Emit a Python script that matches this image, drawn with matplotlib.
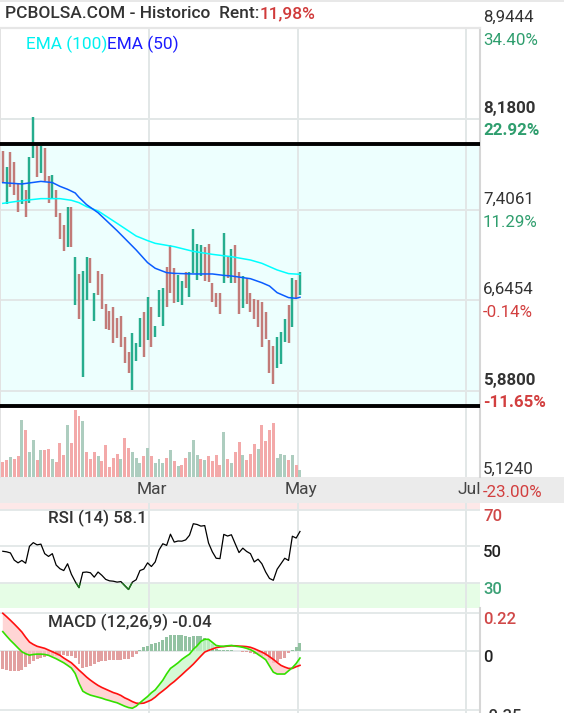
import matplotlib
matplotlib.use('Agg')
import matplotlib.pyplot as plt
import matplotlib.transforms as mtransforms
from matplotlib.patches import Rectangle
import numpy as np

plt.rcParams['font.family'] = ['Roboto', 'DejaVu Sans']

# ---------------- data ----------------
candle_high = [7.910, 7.774, 7.898, 7.814, 7.628, 7.662, 7.577, 7.859, 8.197, 7.949,
               7.949, 7.935, 7.698, 7.704, 7.577, 7.380, 7.281, 7.431, 7.431, 7.013,
               6.867, 6.895, 7.013, 6.999, 6.709, 6.889, 6.867, 6.613, 6.551, 6.585,
               6.492, 6.512, 6.337, 6.210, 6.371, 6.280, 6.492, 6.543, 6.670, 6.591,
               6.427, 6.732, 6.746, 6.929, 7.112, 6.915, 6.858, 6.810, 6.887, 6.887,
               7.247, 7.121, 7.112, 7.098, 7.121, 6.788, 6.709, 6.703, 7.211, 7.013,
               7.075, 7.112, 6.887, 6.850, 6.830, 6.709, 6.653, 6.647, 6.633, 6.548,
               6.309, 6.258, 6.331, 6.379, 6.484, 6.605, 6.830, 6.816, 6.881]
candle_low = [7.639, 7.459, 7.605, 7.535, 7.394, 7.456, 7.352, 7.470, 7.845, 7.690,
              7.724, 7.656, 7.470, 7.507, 7.352, 7.166, 7.064, 7.092, 7.098, 6.605,
              6.484, 5.999, 6.647, 6.794, 6.472, 6.689, 6.568, 6.399, 6.393, 6.286,
              6.323, 6.252, 6.117, 6.027, 5.886, 6.134, 6.247, 6.168, 6.309, 6.252,
              6.337, 6.506, 6.427, 6.591, 6.703, 6.619, 6.633, 6.605, 6.746, 6.670,
              6.872, 6.816, 6.850, 6.810, 6.802, 6.633, 6.585, 6.529, 6.794, 6.830,
              6.794, 6.788, 6.529, 6.577, 6.613, 6.548, 6.484, 6.416, 6.252, 6.314,
              6.027, 5.937, 6.069, 6.106, 6.295, 6.286, 6.416, 6.661, 6.689]
candle_up = [0, 1, 0, 0, 0, 1, 0, 1, 1, 0,
             1, 0, 0, 1, 0, 0, 0, 1, 0, 1,
             0, 1, 1, 0, 1, 0, 0, 0, 0, 0,
             0, 0, 0, 0, 1, 1, 1, 0, 1, 0,
             1, 1, 1, 0, 0, 0, 1, 1, 0, 1,
             1, 1, 1, 0, 0, 0, 0, 0, 1, 0,
             1, 0, 0, 1, 0, 0, 0, 0, 0, 0,
             0, 0, 1, 1, 1, 0, 1, 0, 1]
volume = [45, 51, 60, 54, 63, 171, 141, 75, 111, 51,
          81, 81, 84, 54, 45, 102, 66, 156, 102, 201,
          183, 168, 75, 54, 75, 63, 48, 96, 30, 57,
          69, 54, 117, 87, 75, 57, 42, 63, 87, 63,
          42, 54, 42, 57, 81, 48, 33, 36, 57, 75,
          111, 66, 54, 51, 63, 48, 66, 36, 135, 54,
          42, 75, 105, 66, 51, 69, 99, 84, 156, 108,
          141, 162, 57, 69, 66, 51, 66, 36, 21]
volume_up = [0, 0, 1, 0, 0, 1, 0, 1, 1, 0,
             1, 0, 0, 1, 0, 0, 0, 1, 0, 0,
             0, 1, 0, 0, 0, 1, 0, 0, 0, 0,
             0, 1, 0, 0, 1, 1, 1, 0, 1, 0,
             1, 1, 1, 0, 1, 0, 1, 0, 0, 1,
             1, 1, 0, 1, 0, 0, 0, 0, 1, 0,
             1, 0, 0, 1, 0, 0, 0, 1, 0, 0,
             0, 0, 1, 1, 1, 0, 1, 0, 1]
ema50_idx = [0, 5, 10, 13, 15, 17, 19, 20, 22, 25, 30, 35, 38, 40, 43, 45, 50, 55,
             58, 60, 65, 68, 70, 72, 75, 77, 78]
ema50_val = [7.639, 7.628, 7.650, 7.640, 7.608, 7.583, 7.552, 7.515, 7.453, 7.385,
             7.233, 7.070, 6.963, 6.915, 6.878, 6.872, 6.867, 6.867, 6.855, 6.850,
             6.827, 6.793, 6.765, 6.709, 6.667, 6.661, 6.670]
ema100_idx = [0, 5, 10, 15, 18, 20, 22, 25, 30, 35, 38, 40, 45, 50, 55, 60, 65, 68,
              70, 72, 75, 78]
ema100_val = [7.464, 7.487, 7.504, 7.504, 7.490, 7.470, 7.436, 7.400, 7.295, 7.188,
              7.149, 7.126, 7.098, 7.058, 7.033, 7.013, 6.985, 6.957, 6.929, 6.901,
              6.870, 6.864]
rsi = [47.3, 47.0, 46.4, 42.5, 41.0, 42.3, 40.8, 50.0, 52.0, 50.8,
       51.2, 46.0, 44.5, 46.0, 39.8, 37.8, 36.8, 40.5, 34.8, 30.8,
       27.5, 35.8, 36.0, 35.6, 33.2, 36.0, 34.2, 32.0, 31.2, 31.0,
       30.5, 30.8, 28.6, 26.5, 30.5, 31.8, 36.8, 37.6, 41.0, 39.0,
       41.5, 48.0, 51.4, 50.5, 56.6, 52.3, 52.9, 52.8, 53.5, 56.0,
       62.3, 61.9, 61.0, 61.3, 51.8, 47.0, 43.5, 43.3, 56.5, 55.6,
       56.3, 51.4, 46.6, 49.0, 47.2, 46.0, 41.5, 43.0, 40.5, 36.0,
       32.5, 31.5, 37.5, 40.5, 43.5, 42.3, 55.5, 54.5, 58.1]
macd = [0.112, 0.086, 0.061, 0.039, 0.016, -0.006, -0.018, -0.026, -0.022, -0.020,
        -0.020, -0.022, -0.027, -0.037, -0.047, -0.059, -0.071, -0.086, -0.102, -0.134,
        -0.192, -0.238, -0.251, -0.261, -0.267, -0.273, -0.279, -0.287, -0.293, -0.300,
        -0.306, -0.316, -0.326, -0.334, -0.338, -0.326, -0.306, -0.287, -0.269, -0.247,
        -0.230, -0.202, -0.173, -0.136, -0.104, -0.088, -0.071, -0.051, -0.035, -0.020,
        0.008, 0.029, 0.055, 0.067, 0.067, 0.049, 0.031, 0.027, 0.026, 0.029,
        0.031, 0.027, 0.024, 0.020, 0.014, 0.006, -0.006, -0.022, -0.037, -0.053,
        -0.090, -0.126, -0.137, -0.137, -0.137, -0.118, -0.100, -0.075, -0.043]
macd_signal = [0.220, 0.200, 0.179, 0.157, 0.134, 0.110, 0.079, 0.051, 0.037, 0.026,
               0.020, 0.014, 0.004, -0.006, -0.016, -0.027, -0.043, -0.057, -0.071, -0.092,
               -0.114, -0.134, -0.155, -0.173, -0.189, -0.204, -0.216, -0.226, -0.236, -0.246,
               -0.253, -0.263, -0.277, -0.287, -0.299, -0.308, -0.310, -0.308, -0.299, -0.289,
               -0.273, -0.253, -0.236, -0.218, -0.198, -0.181, -0.161, -0.141, -0.120, -0.100,
               -0.079, -0.055, -0.031, -0.008, 0.002, 0.010, 0.018, 0.022, 0.024, 0.027,
               0.029, 0.029, 0.027, 0.026, 0.024, 0.020, 0.012, 0.002, -0.008, -0.020,
               -0.035, -0.051, -0.069, -0.086, -0.096, -0.104, -0.104, -0.094, -0.086]

band_top = 7.969
band_bottom = 5.751
price_levels = [8.9444, 8.18, 7.4061, 6.6454, 5.88, 5.124]
price_pcts = ['34.40%', '22.92%', '11.29%', '-0.14%', '-11.65%', '-23.00%']
price_bold = [False, True, False, False, True, False]
month_labels = ['Mar', 'May', 'Jul']
month_pos = [38.4, 77.6, 121.7]
rsi_levels = [70, 50, 30]
macd_levels = [0.22, 0, -0.35]
macd_level_labels = ['0.22', '0', '-0.35']
title_text = 'PCBOLSA.COM - Historico  Rent:'
rent_text = '11,98%'
rsi_title = 'RSI (14) 58.1'
macd_title = 'MACD (12,26,9) -0.04'

# ---------------- layout ----------------
W, H = 564, 713
fig = plt.figure(figsize=(W / 100, H / 100), dpi=100)
fig.patch.set_facecolor('white')
renderer = fig.canvas.get_renderer()


def px_axes(l, t, r, b):
    a = fig.add_axes([l / W, 1 - b / H, (r - l) / W, (b - t) / H])
    a.set_xticks([])
    a.set_yticks([])
    for s in a.spines.values():
        s.set_visible(False)
    return a


XLIM = (-0.735, 125.25)
GRID = '#e2e7e7'
GREEN_TXT = '#2f9e6e'
RED_TXT = '#d23f3f'
DARK = '#333333'
idx = np.arange(len(candle_high))

# top frame line and date band (behind the axes)
fig.add_artist(Rectangle((0, 1 - 2 / H), 1, 2 / H, transform=fig.transFigure,
                         color='#e8e8e8', lw=0, zorder=-5))
fig.add_artist(Rectangle((0, 1 - 503 / H), 1, 26 / H, transform=fig.transFigure,
                         color='#ebebeb', lw=0, zorder=-5))

# ---------------- price panel ----------------
ax = px_axes(0, 28, 480, 477)
ax.set_xlim(*XLIM)
ax.set_ylim(5.150, 8.947)
ax.spines['top'].set_visible(True)
ax.spines['top'].set_color('#e6e6e6')
ax.spines['top'].set_linewidth(1.6)
ax.spines['left'].set_visible(True)
ax.spines['left'].set_color('#e2e2e2')
ax.spines['left'].set_linewidth(1.4)
ax.spines['right'].set_visible(True)
ax.spines['right'].set_color('#d6d6d6')
ax.spines['right'].set_linewidth(1.5)

ax.axhspan(band_bottom, band_top, color='#edfffe', lw=0, zorder=0)
for lv in price_levels[1:5]:
    ax.axhline(lv, color=GRID, lw=1.4, zorder=1)
for p in month_pos:
    ax.axvline(p, color=GRID, lw=1.4, zorder=1)

axv = ax.twinx()
axv.set_ylim(0, 1347)
axv.bar(idx, volume, width=0.78,
        color=['#adcdbf' if u else '#f3a9a9' for u in volume_up], lw=0, zorder=2)
axv.set_xlim(*XLIM)
axv.axis('off')

ax.vlines(idx, candle_low, candle_high,
          colors=['#27ad8e' if u else '#c27b78' for u in candle_up], lw=1.75, zorder=3)
ax.plot(ema100_idx, ema100_val, color='#00ffff', lw=1.1, zorder=4)
ax.plot(ema50_idx, ema50_val, color='#0a5cff', lw=1.1, zorder=4)
ax.axhline(band_top, color='black', lw=2.8, zorder=5)
ax.axhline(band_bottom, color='black', lw=2.8, zorder=5)

trans_p = mtransforms.blended_transform_factory(fig.transFigure, ax.transData)
for lv, pct, bold in zip(price_levels, price_pcts, price_bold):
    w = 'bold' if bold else 'normal'
    ax.text(483 / W, lv, f'{lv:.4f}'.replace('.', ','),
            transform=mtransforms.offset_copy(trans_p, fig=fig, y=6, units='dots'),
            va='baseline', ha='left', fontsize=12.2, fontweight=w, color=DARK,
            clip_on=False, zorder=10)
    ax.text(483 / W, lv, pct,
            transform=mtransforms.offset_copy(trans_p, fig=fig, y=-16.5, units='dots'),
            va='baseline', ha='left', fontsize=12.2, fontweight=w,
            color=RED_TXT if pct.startswith('-') else GREEN_TXT, clip_on=False, zorder=10)


def seq_text(x_px, base_px, parts, **kw):
    x = x_px
    for s, c in parts:
        t = fig.text(x / W, 1 - base_px / H, s, color=c, va='baseline', ha='left', **kw)
        x = t.get_window_extent(renderer=renderer).x1


seq_text(5, 18.5, [(title_text, DARK), (rent_text, '#d03a3a')], fontsize=12.5,
         fontweight='medium')
seq_text(26, 49.5, [('EMA (100)', '#00f0f0'), ('EMA (50)', '#1a1aff')], fontsize=12.4)

# month labels
trans_m = mtransforms.blended_transform_factory(ax.transData, fig.transFigure)
for p, lab in zip(month_pos, month_labels):
    fig.text(p, 1 - 494 / H, lab,
             transform=mtransforms.offset_copy(trans_m, fig=fig, x=3, units='dots'),
             ha='center', va='baseline', fontsize=12.5, color='#444444')

# ---------------- RSI panel ----------------
axr = px_axes(0, 503, 480, 608)
axr.set_xlim(*XLIM)
axr.set_ylim(16.4, 73.6)
axr.axhspan(70, 100, color='#fde8e8', lw=0, zorder=0)
axr.axhspan(0, 30, color='#e6fde6', lw=0, zorder=0)
for lv in rsi_levels:
    axr.axhline(lv, color=GRID, lw=1.3, zorder=1)
for p in month_pos:
    axr.axvline(p, color=GRID, lw=1.4, zorder=1)
axr.plot(idx, rsi, color='black', lw=0.9, zorder=3)
low_line = axr.plot(idx, rsi, color='#1f7a1f', lw=1.0, zorder=4)[0]
low_line.set_clip_path(Rectangle((XLIM[0], 0), XLIM[1] - XLIM[0], 30, transform=axr.transData))

trans_r = mtransforms.blended_transform_factory(fig.transFigure, axr.transData)
for lv, col in zip(rsi_levels, ['#d04848', '#222222', '#3aa075']):
    axr.text(483 / W, lv, str(lv),
             transform=mtransforms.offset_copy(trans_r, fig=fig, y=-11, units='dots'),
             va='baseline', ha='left', fontsize=12, fontweight='medium', color=col,
             clip_on=False)
fig.text(48 / W, 1 - 523.5 / H, rsi_title, fontsize=12.2, fontweight='medium', color=DARK,
         va='baseline', ha='left')

# ---------------- MACD panel ----------------
axm = px_axes(0, 608, 480, 713)
axm.set_xlim(*XLIM)
axm.set_ylim(-0.366, 0.251)
axm.spines['right'].set_visible(True)
axm.spines['right'].set_color('#d6d6d6')
axm.spines['right'].set_linewidth(1.5)
for lv in macd_levels:
    axm.axhline(lv, color=GRID, lw=1.3, zorder=1)
for p in month_pos:
    axm.axvline(p, color=GRID, lw=1.4, zorder=1)
macd_a = np.array(macd)
sig_a = np.array(macd_signal)
hist = macd_a - sig_a
axm.bar(idx, hist, width=0.78, color=['#93c2a2' if h >= 0 else '#e2a0a0' for h in hist],
        lw=0, zorder=2)
axm.fill_between(idx, macd_a, sig_a, where=macd_a >= sig_a, interpolate=True,
                 color='#c8f8c8', alpha=0.75, lw=0, zorder=3)
axm.fill_between(idx, macd_a, sig_a, where=macd_a < sig_a, interpolate=True,
                 color='#ffc8c8', alpha=0.75, lw=0, zorder=3)
axm.plot(idx, sig_a, color='#ff1010', lw=1.2, zorder=4)
axm.plot(idx, macd_a, color='#33e000', lw=1.2, zorder=5)

trans_mc = mtransforms.blended_transform_factory(fig.transFigure, axm.transData)
for lv, lab, col in zip(macd_levels, macd_level_labels, ['#d04848', '#222222', '#333333']):
    axm.text(483 / W, lv, lab,
             transform=mtransforms.offset_copy(trans_mc, fig=fig, y=-11, units='dots'),
             va='baseline', ha='left', fontsize=12, fontweight='medium', color=col,
             clip_on=False)
fig.text(48 / W, 1 - 627.5 / H, macd_title, fontsize=12.2, fontweight='medium', color=DARK,
         va='baseline', ha='left')

fig.savefig('out.png', dpi=100, facecolor='white')
